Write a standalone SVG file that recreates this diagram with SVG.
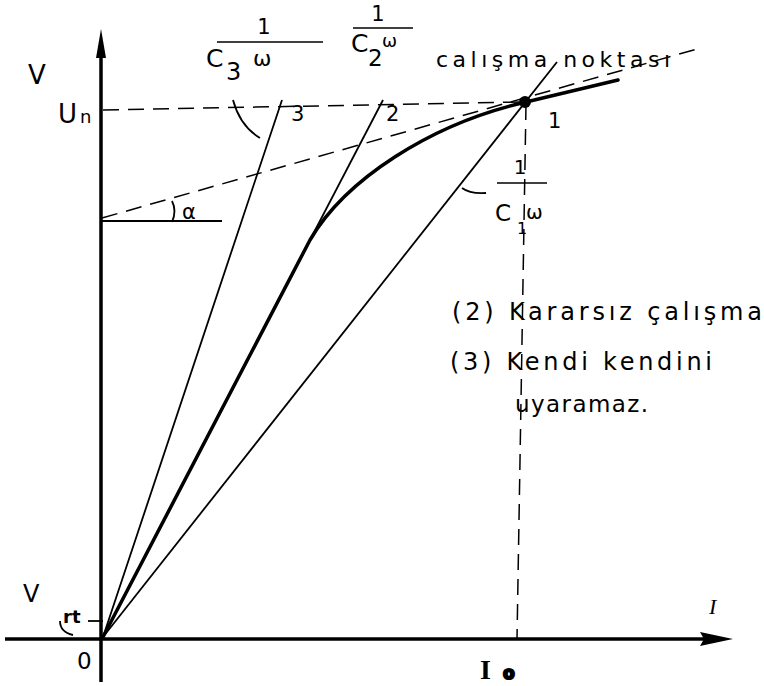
<svg xmlns="http://www.w3.org/2000/svg" width="764" height="686" viewBox="0 0 764 686">
<style>
text{font-family:"DejaVu Sans","Liberation Sans",sans-serif;fill:#000}
.ln{stroke:#000;fill:none;stroke-width:1.8}
.dash{stroke:#000;fill:none;stroke-width:1.5;stroke-dasharray:16 9}
.axis{stroke:#000;fill:none;stroke-width:3.5}
.lbl{font-size:22px}
.srf{font-family:"Liberation Serif",serif}
</style>
<rect width="764" height="686" fill="#fff"/>
<g id="axes">
  <line class="axis" x1="101" y1="682" x2="101" y2="50"/>
  <polygon points="101,29 106,58 96,58" fill="#000"/>
  <line class="axis" x1="5" y1="639" x2="708" y2="639"/>
  <polygon points="733,639 700,632 704,639 700,646" fill="#000"/>
</g>
<g id="connectors">
  <line id="line3" class="ln" x1="103" y1="637" x2="282" y2="100"/>
  <line id="line2" class="ln" x1="103" y1="637" x2="383" y2="100"/>
  <line id="line1" class="ln" x1="103" y1="637" x2="557" y2="62"/>
  <path id="curve" d="M103,637 L310,240 C345,180 430,124 526,102 L618,80" fill="none" stroke="#000" stroke-width="3.5" stroke-linecap="round"/>
  <line id="un-dash" class="dash" x1="103" y1="110" x2="522" y2="102"/>
  <line id="tangent-dash" class="dash" x1="102" y1="218" x2="697" y2="49"/>
  <line id="io-dash" class="dash" x1="526" y1="104" x2="517" y2="639"/>
  <line id="alpha-ref" class="ln" x1="102" y1="221" x2="222" y2="221" stroke-width="1.3"/>
  <path id="alpha-arc" class="ln" d="M172,201 Q177,211 172,222" stroke-width="1.5"/>
  <path id="angle3-arc" class="ln" d="M233,100 Q240,126 260,138" stroke-width="1.8"/>
  <path id="c1-leader" class="ln" d="M462,188 Q470,194 486,193" stroke-width="1.5"/>
  <line id="vrt-tick" class="ln" x1="88" y1="621" x2="103" y2="621" stroke-width="1.5"/>
  <path id="vrt-arc" class="ln" d="M60,621 Q60,632 73,635" stroke-width="1.5"/>
</g>
<g id="operating-point">
  <circle cx="525" cy="102" r="6" fill="#000"/>
</g>
<g id="label-V"><text x="28" y="84" font-size="26">V</text></g>
<g id="label-Un"><text x="58" y="123" font-size="26">U</text><text x="80" y="123" font-size="18">n</text></g>
<g id="frac-c3">
  <text x="264" y="34" font-size="21" text-anchor="middle">1</text>
  <line x1="217" y1="42" x2="323" y2="42" stroke="#000" stroke-width="1.5"/>
  <text x="206" y="67" font-size="25">C</text>
  <text x="226" y="80" font-size="24">3</text>
  <text x="253" y="66" font-size="22">ω</text>
</g>
<g id="frac-c2">
  <text x="378" y="21" font-size="21" text-anchor="middle">1</text>
  <line x1="353" y1="28" x2="413" y2="28" stroke="#000" stroke-width="1.5"/>
  <text x="351" y="52" font-size="25">C</text>
  <text x="368" y="66" font-size="23">2</text>
  <text x="382" y="47" font-size="18">ω</text>
</g>
<g id="frac-c1">
  <text x="520" y="174" font-size="20" text-anchor="middle">1</text>
  <line x1="497" y1="183" x2="547" y2="183" stroke="#000" stroke-width="1.5"/>
  <text x="495" y="221" font-size="23">C</text>
  <text x="517" y="234" font-size="16">1</text>
  <text x="526" y="219" font-size="20">ω</text>
</g>
<g id="label-3"><text x="291" y="121" font-size="21">3</text></g>
<g id="label-2"><text x="386" y="121" font-size="21">2</text></g>
<g id="label-1"><text x="548" y="128" font-size="21">1</text></g>
<g id="label-op"><text x="436" y="67" class="lbl" textLength="234" lengthAdjust="spacing">calışma noktası</text></g>
<g id="label-alpha"><text x="182" y="219" font-size="21">α</text></g>
<g id="notes">
  <text x="452" y="320" font-size="24" textLength="310" lengthAdjust="spacing">(2) Kararsız çalışma</text>
  <text x="450" y="370" font-size="24" textLength="262" lengthAdjust="spacing">(3) Kendi kendini</text>
  <text x="515" y="412" font-size="23" textLength="133" lengthAdjust="spacing">uyaramaz.</text>
</g>
<g id="label-Vrt"><text x="23" y="602" font-size="24">V</text><text x="63" y="623" font-size="18" font-weight="bold">rt</text></g>
<g id="label-0"><text x="77" y="669" font-size="23">0</text></g>
<g id="label-Io"><text x="480" y="679" font-size="28" class="srf" font-weight="bold">I</text><text x="503" y="679" font-size="17" font-weight="bold" stroke="#000" stroke-width="2">o</text></g>
<g id="label-I"><text x="709" y="614" font-size="22" class="srf" font-style="italic">I</text></g>
</svg>
